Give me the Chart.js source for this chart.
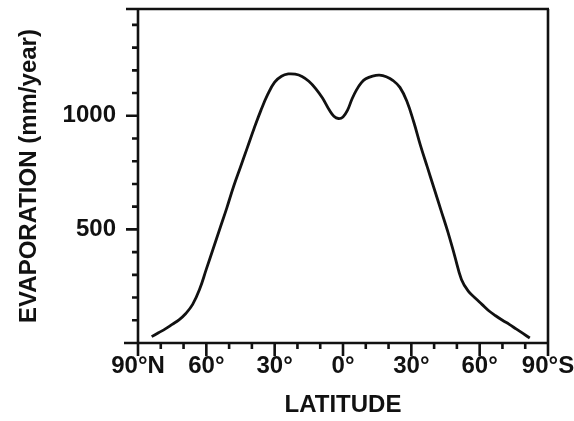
<!DOCTYPE html>
<html>
<head>
<meta charset="utf-8">
<script src="https://cdn.jsdelivr.net/npm/chart.js@4/dist/chart.umd.min.js"></script>
<style>
  html, body { margin: 0; padding: 0; background: #fff; }
  #wrap { width: 574px; height: 421px; }
</style>
</head>
<body>
<div id="wrap"><canvas id="evap"></canvas></div>
<script>
// latitude in degrees, north negative, south positive
const latitude = [-84, -81, -78, -75, -72, -69, -66, -63, -60, -57, -54, -51, -48, -45, -42, -39, -36, -33, -30, -27, -24, -21, -18, -15, -12, -9, -6, -4, -2, 0, 2, 4, 6, 8, 10, 13, 16, 19, 22, 25, 28, 31, 34, 37, 40, 43, 46, 49, 52, 55, 58, 61, 64, 67, 70, 73, 76, 79, 82];
const evaporation = [28, 45, 62, 82, 102, 130, 170, 235, 325, 415, 505, 595, 690, 775, 860, 945, 1025, 1095, 1148, 1174, 1184, 1183, 1173, 1152, 1120, 1078, 1025, 998, 988, 995, 1025, 1075, 1115, 1145, 1163, 1175, 1179, 1172, 1155, 1125, 1065, 975, 870, 775, 680, 585, 490, 385, 280, 228, 198, 170, 142, 120, 100, 82, 62, 42, 22];

const latTicks = [-90, -60, -30, 0, 30, 60, 90];
const latLabels = ["90°N", "60°", "30°", "0°", "30°", "60°", "90°S"];
const latMinor = [-80, -70, -50, -40, -20, -10, 10, 20, 40, 50, 70, 80];
const evapTicks = [500, 1000];
const evapMinor = [100, 200, 300, 400, 600, 700, 800, 900, 1100, 1200, 1300, 1400];

const ink = "#111";
const labelFont = { family: "'Liberation Sans', Arial, sans-serif", size: 24, weight: "bold" };

const points = latitude.map((lat, i) => ({ x: lat, y: evaporation[i] }));

// frame and tick marks (major ticks longer than minor)
const framePlugin = {
  id: "frame",
  afterDraw(chart) {
    const { ctx, chartArea } = chart;
    const xs = chart.scales.x;
    const ys = chart.scales.y;
    const { left, right, top, bottom } = chartArea;
    ctx.save();
    ctx.strokeStyle = ink;
    ctx.lineWidth = 2.6;
    ctx.lineCap = "butt";
    ctx.beginPath();
    ctx.moveTo(left - 12, top); ctx.lineTo(right + 1, top);
    ctx.moveTo(right, top); ctx.lineTo(right, bottom + 13);
    ctx.moveTo(left - 14, bottom); ctx.lineTo(right, bottom);
    ctx.moveTo(left, top); ctx.lineTo(left, bottom + 13);
    latTicks.forEach((v) => {
      const px = xs.getPixelForValue(v);
      ctx.moveTo(px, bottom); ctx.lineTo(px, bottom + 13);
    });
    latMinor.forEach((v) => {
      const px = xs.getPixelForValue(v);
      ctx.moveTo(px, bottom); ctx.lineTo(px, bottom + 6);
    });
    evapTicks.forEach((v) => {
      const py = ys.getPixelForValue(v);
      ctx.moveTo(left, py); ctx.lineTo(left - 12, py);
    });
    evapMinor.forEach((v) => {
      const py = ys.getPixelForValue(v);
      ctx.moveTo(left, py); ctx.lineTo(left - 6, py);
    });
    ctx.stroke();
    ctx.restore();
  },
};

new Chart(document.getElementById("evap"), {
  type: "line",
  data: {
    datasets: [
      {
        data: points,
        borderColor: ink,
        borderWidth: 2.8,
        pointRadius: 0,
        fill: false,
        tension: 0.4,
      },
    ],
  },
  options: {
    responsive: true,
    maintainAspectRatio: false,
    animation: false,
    layout: { padding: { left: 0, right: 26, top: 9, bottom: 0 } },
    plugins: { legend: { display: false }, tooltip: { enabled: false } },
    scales: {
      x: {
        type: "linear",
        min: -90,
        max: 90,
        grid: { display: false, drawTicks: false },
        border: { display: false },
        afterBuildTicks: (s) => { s.ticks = latTicks.map((v) => ({ value: v })); },
        afterFit: (s) => {
          s.height = 78;
          s.paddingLeft = 0;
          s.paddingRight = 0;
        },
        ticks: {
          autoSkip: false,
          maxRotation: 0,
          padding: 9,
          color: ink,
          font: labelFont,
          callback: (v) => latLabels[latTicks.indexOf(v)],
        },
        title: {
          display: true,
          text: "LATITUDE",
          color: ink,
          font: labelFont,
          padding: { top: 0, bottom: 1 },
        },
      },
      y: {
        min: 0,
        max: 1470,
        grid: { display: false, drawTicks: false },
        border: { display: false },
        afterBuildTicks: (s) => { s.ticks = evapTicks.map((v) => ({ value: v })); },
        afterFit: (s) => {
          s.width = 138;
          s.paddingTop = 0;
          s.paddingBottom = 0;
        },
        ticks: {
          padding: 22,
          color: ink,
          font: labelFont,
          callback: (v) => String(v),
        },
        title: {
          display: true,
          text: "EVAPORATION (mm/year)",
          color: ink,
          font: labelFont,
          padding: { top: 15, bottom: 0 },
        },
      },
    },
  },
  plugins: [framePlugin],
});
</script>
</body>
</html>
